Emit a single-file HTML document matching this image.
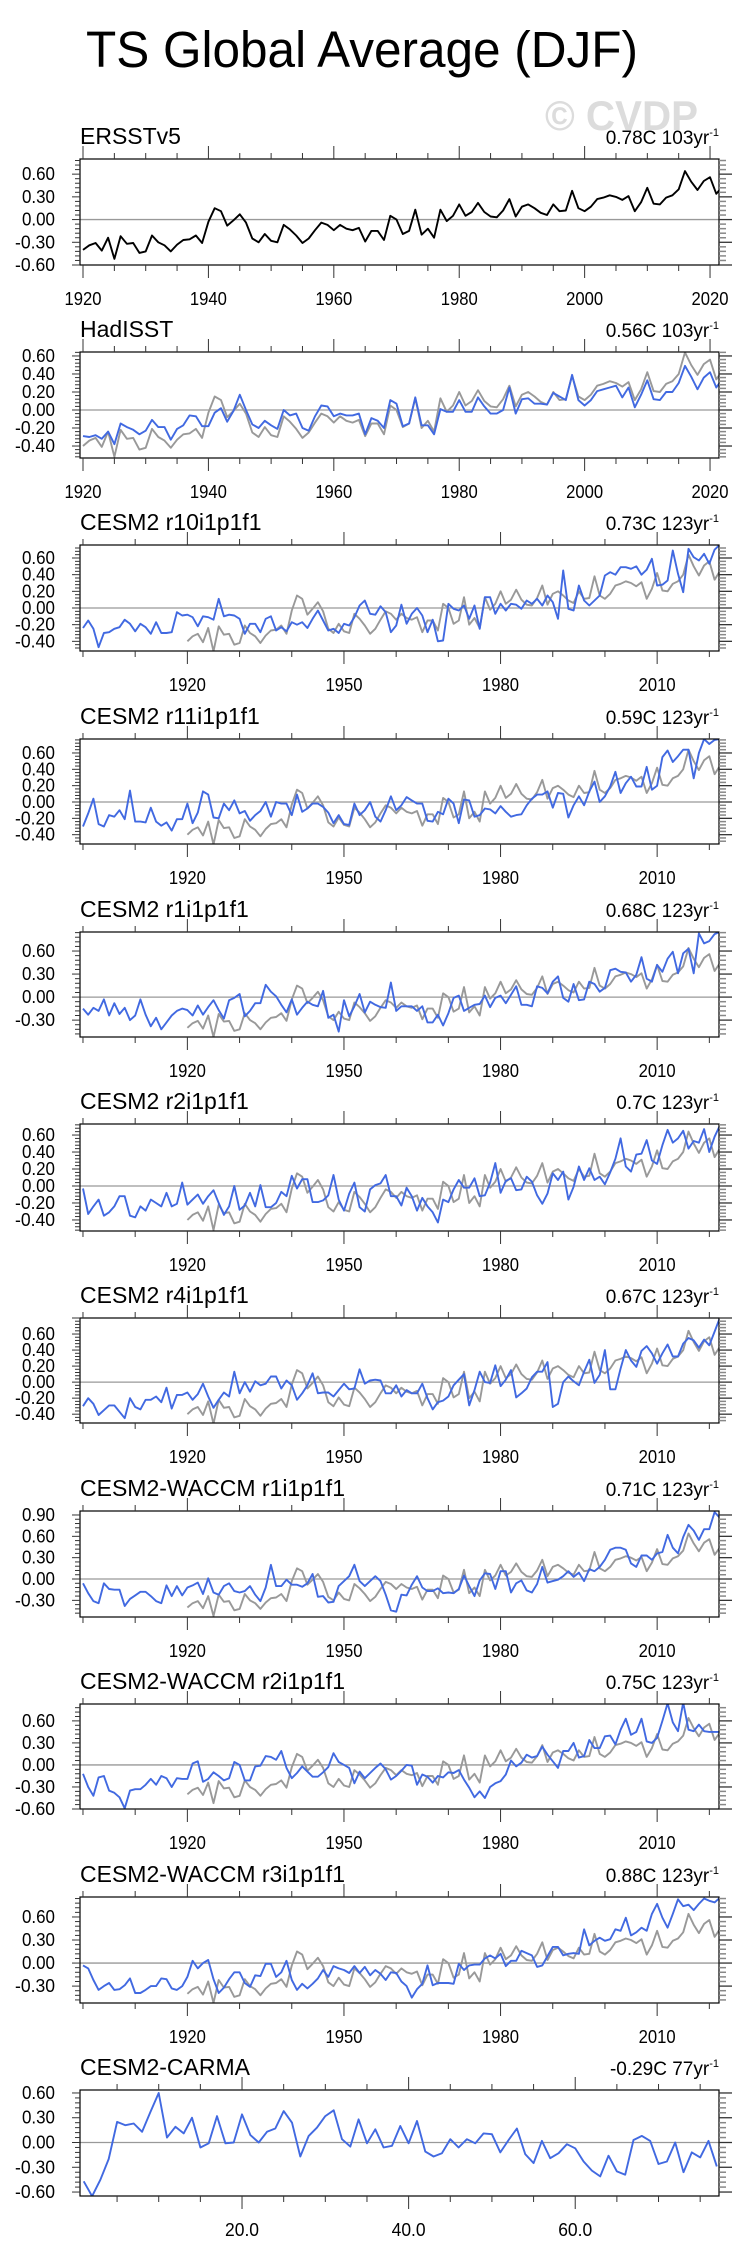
<!DOCTYPE html>
<html><head><meta charset="utf-8">
<style>
html,body{margin:0;padding:0;background:#fff;}
svg{display:block;font-family:"Liberation Sans",Arial,sans-serif;}
</style></head>
<body>
<svg id="chart" width="748" height="2265" viewBox="0 0 748 2265" xmlns="http://www.w3.org/2000/svg">
<rect width="748" height="2265" fill="#fff"/>
<text x="86" y="67" font-size="51" textLength="552" lengthAdjust="spacingAndGlyphs" fill="#000">TS Global Average (DJF)</text>
<text x="545" y="130" font-size="42" font-weight="bold" textLength="153" lengthAdjust="spacingAndGlyphs" fill="#dcdcdc">© CVDP</text>
<g id="panels"></g>
</svg>
<script>
// ---- data ----
const obsYears = [1920, 2022];
const ersst = [-0.40,-0.34,-0.31,-0.41,-0.24,-0.52,-0.22,-0.32,-0.31,-0.44,-0.42,-0.21,-0.30,-0.34,-0.42,-0.33,-0.27,-0.26,-0.21,-0.31,
-0.03,0.15,0.11,-0.08,-0.01,0.07,-0.04,-0.25,-0.30,-0.19,-0.28,-0.30,-0.07,-0.13,-0.21,-0.31,-0.25,-0.14,-0.04,-0.07,
-0.14,-0.07,-0.12,-0.14,-0.11,-0.29,-0.15,-0.15,-0.27,0.05,0.00,-0.19,-0.15,0.13,-0.20,-0.12,-0.24,0.13,-0.02,0.05,
0.20,0.05,0.10,0.22,0.10,0.04,0.03,0.12,0.27,0.04,0.17,0.20,0.15,0.09,0.06,0.20,0.11,0.12,0.38,0.15,
0.11,0.17,0.27,0.29,0.32,0.30,0.26,0.31,0.11,0.23,0.42,0.21,0.20,0.29,0.32,0.40,0.64,0.50,0.39,0.51,0.56,0.34,0.44];
const hadisst = [-0.29,-0.30,-0.28,-0.32,-0.24,-0.38,-0.15,-0.19,-0.22,-0.27,-0.23,-0.11,-0.19,-0.19,-0.33,-0.21,-0.17,-0.06,-0.07,-0.18,
-0.18,-0.03,0.02,-0.13,-0.01,0.17,0.00,-0.16,-0.20,-0.12,-0.17,-0.21,0.00,-0.06,-0.04,-0.20,-0.23,-0.07,0.05,0.04,
-0.07,-0.04,-0.06,-0.06,-0.04,-0.27,-0.09,-0.12,-0.20,0.11,0.07,-0.18,-0.15,0.14,-0.17,-0.17,-0.27,0.01,-0.02,-0.02,
0.11,-0.02,-0.02,0.14,0.04,-0.04,-0.04,0.00,0.25,-0.04,0.12,0.13,0.07,0.07,0.06,0.19,0.15,0.11,0.39,0.11,
0.05,0.11,0.21,0.23,0.25,0.27,0.14,0.25,0.03,0.17,0.33,0.12,0.11,0.20,0.20,0.30,0.49,0.37,0.23,0.36,0.42,0.25,0.35];
const modelYears = [1900, 2022];
const r10 = [-0.24,-0.15,-0.25,-0.47,-0.30,-0.29,-0.25,-0.23,-0.14,-0.19,-0.28,-0.19,-0.23,-0.31,-0.17,-0.30,-0.30,-0.29,-0.05,-0.09,
-0.08,-0.11,-0.22,-0.10,-0.11,-0.14,0.11,-0.10,-0.08,-0.09,-0.13,-0.31,-0.19,-0.19,-0.29,-0.13,-0.10,-0.27,-0.23,-0.28,
-0.17,-0.20,-0.17,-0.24,-0.13,-0.03,-0.15,-0.27,-0.25,-0.30,-0.19,-0.21,-0.11,0.03,0.09,-0.07,-0.08,0.02,-0.05,-0.29,
-0.21,0.04,-0.19,-0.07,0.00,-0.09,-0.29,-0.14,-0.40,-0.39,0.05,-0.01,-0.03,0.03,-0.13,0.03,-0.25,0.13,0.13,-0.07,
0.05,-0.03,0.05,0.04,-0.01,0.09,0.05,0.11,0.03,0.15,0.07,-0.13,0.45,-0.01,-0.03,0.27,0.09,0.03,0.09,0.15,
0.39,0.43,0.40,0.49,0.49,0.47,0.50,0.40,0.46,0.59,0.27,0.28,0.33,0.69,0.41,0.19,0.71,0.61,0.57,0.65,0.53,0.70,0.76];
const r11 = [-0.30,-0.14,0.04,-0.27,-0.30,-0.16,-0.18,-0.10,-0.21,0.14,-0.24,-0.24,-0.25,-0.07,-0.24,-0.29,-0.25,-0.35,-0.21,-0.21,
-0.02,-0.26,-0.13,0.13,0.09,-0.19,-0.20,-0.02,-0.10,0.02,-0.14,-0.11,-0.23,-0.16,-0.11,0.00,-0.18,0.00,-0.02,-0.02,
-0.16,0.09,-0.12,-0.08,-0.02,-0.02,-0.06,-0.13,-0.26,-0.16,-0.27,-0.28,-0.02,-0.16,-0.10,0.00,-0.18,-0.24,-0.10,0.07,
-0.10,-0.04,0.06,0.02,-0.02,-0.02,-0.23,-0.24,-0.12,-0.15,0.04,-0.02,-0.26,0.03,0.02,-0.18,-0.16,-0.08,-0.09,-0.14,
-0.05,-0.12,-0.18,-0.16,-0.15,-0.04,0.04,0.09,0.09,0.13,-0.07,0.11,0.10,-0.19,-0.04,0.07,-0.04,0.13,0.25,0.00,
0.07,0.19,0.37,0.11,0.23,0.31,0.19,0.19,0.43,0.15,0.20,0.55,0.63,0.49,0.56,0.64,0.64,0.29,0.60,0.77,0.71,0.76,0.77];
const r1 = [-0.15,-0.23,-0.14,-0.18,-0.03,-0.24,-0.08,-0.22,-0.14,-0.30,-0.24,-0.03,-0.23,-0.38,-0.27,-0.42,-0.33,-0.24,-0.18,-0.15,
-0.17,-0.24,-0.11,-0.23,-0.13,-0.04,-0.17,-0.28,-0.04,-0.01,0.04,-0.25,-0.18,-0.08,-0.08,0.16,0.07,0.01,-0.10,-0.20,
-0.03,-0.23,-0.14,-0.06,-0.10,-0.12,0.08,-0.27,-0.23,-0.45,-0.04,-0.25,-0.12,0.04,-0.20,-0.06,-0.10,-0.13,-0.14,0.19,
-0.18,-0.12,-0.12,-0.12,-0.18,-0.12,-0.33,-0.33,-0.23,-0.37,-0.21,-0.01,0.02,-0.18,-0.14,-0.10,-0.09,0.02,-0.13,-0.01,
0.02,-0.08,0.03,0.14,-0.10,-0.10,-0.12,0.14,0.12,0.05,0.20,0.27,-0.01,-0.06,0.17,-0.04,-0.03,0.20,0.17,0.07,
0.12,0.35,0.37,0.33,0.32,0.20,0.29,0.52,0.24,0.20,0.42,0.33,0.50,0.59,0.31,0.57,0.63,0.31,0.83,0.70,0.73,0.82,0.85];
const r2 = [-0.03,-0.33,-0.24,-0.16,-0.35,-0.31,-0.24,-0.12,-0.12,-0.35,-0.37,-0.24,-0.29,-0.16,-0.20,-0.24,-0.08,-0.24,-0.21,0.04,
-0.22,-0.16,-0.10,-0.21,-0.12,-0.05,-0.20,-0.34,-0.24,0.00,-0.28,-0.23,-0.08,-0.24,0.01,-0.25,-0.25,-0.20,-0.07,-0.12,
0.12,-0.03,0.08,0.08,-0.19,-0.19,-0.17,-0.11,0.13,-0.16,-0.29,-0.09,0.04,-0.25,-0.30,-0.04,0.01,0.03,0.13,-0.12,
-0.12,-0.23,-0.02,-0.12,-0.29,-0.14,-0.24,-0.31,-0.43,-0.16,-0.19,-0.04,0.07,-0.02,-0.02,0.09,-0.12,-0.11,0.04,0.27,
-0.08,0.06,0.09,-0.05,-0.04,0.11,0.05,-0.11,-0.21,-0.09,0.15,0.07,0.17,-0.16,-0.01,0.23,0.07,0.21,0.07,0.11,
0.02,0.16,0.32,0.56,0.23,0.17,0.37,0.38,0.54,0.30,0.26,0.48,0.66,0.51,0.56,0.65,0.44,0.53,0.51,0.67,0.40,0.58,0.71];
const r4 = [-0.30,-0.20,-0.27,-0.41,-0.35,-0.29,-0.29,-0.37,-0.45,-0.20,-0.31,-0.34,-0.22,-0.22,-0.18,-0.25,-0.07,-0.33,-0.16,-0.16,
-0.13,-0.22,-0.15,-0.02,-0.18,-0.32,-0.22,-0.13,-0.18,0.13,-0.14,0.00,-0.12,0.01,-0.04,-0.02,0.07,0.07,-0.08,0.02,
-0.04,-0.22,-0.14,-0.04,0.11,-0.14,-0.13,-0.13,-0.18,-0.10,-0.02,-0.09,-0.08,0.16,-0.02,0.02,0.03,0.02,-0.14,-0.14,
-0.04,-0.18,-0.10,-0.14,-0.14,-0.02,-0.20,-0.34,-0.25,-0.23,-0.18,-0.04,0.03,0.10,-0.29,-0.10,0.13,0.00,-0.01,0.21,
-0.05,0.03,0.15,-0.19,-0.14,-0.08,0.06,0.13,0.13,0.25,-0.31,-0.27,0.00,0.07,0.01,-0.04,0.13,0.28,-0.01,0.09,
0.40,-0.09,-0.09,0.17,0.40,0.27,0.19,0.39,0.45,0.36,0.23,0.36,0.47,0.32,0.32,0.48,0.55,0.52,0.43,0.53,0.46,0.63,0.80];
const waccmR1 = [-0.06,-0.20,-0.31,-0.34,-0.06,-0.14,-0.15,-0.15,-0.38,-0.28,-0.23,-0.18,-0.18,-0.24,-0.31,-0.34,-0.09,-0.24,-0.10,-0.23,
-0.12,-0.09,-0.05,-0.21,0.01,-0.19,-0.22,-0.10,-0.06,-0.17,-0.19,-0.17,-0.10,-0.22,-0.31,-0.12,0.20,-0.10,-0.10,-0.01,
-0.08,-0.08,-0.11,-0.06,0.07,-0.25,-0.24,-0.33,-0.32,-0.10,-0.03,0.04,0.20,-0.03,-0.10,-0.03,0.04,-0.03,-0.22,-0.44,
-0.46,-0.22,-0.23,-0.08,0.04,-0.12,-0.17,-0.17,-0.13,-0.20,-0.19,-0.20,-0.14,0.05,-0.10,-0.24,-0.02,0.08,0.07,-0.14,
0.11,0.11,-0.19,-0.06,-0.02,-0.16,-0.19,-0.07,0.17,-0.05,-0.03,-0.01,0.04,0.11,0.03,0.09,-0.03,0.14,0.11,0.17,
0.27,0.41,0.44,0.44,0.41,0.22,0.17,0.33,0.33,0.27,0.36,0.38,0.62,0.44,0.36,0.59,0.76,0.68,0.55,0.70,0.70,0.94,0.86];
const waccmR2 = [-0.12,-0.30,-0.42,-0.17,-0.15,-0.35,-0.38,-0.44,-0.59,-0.35,-0.33,-0.33,-0.27,-0.19,-0.27,-0.15,-0.18,-0.30,-0.18,-0.19,
-0.19,0.02,0.05,-0.23,-0.19,-0.10,-0.15,-0.21,-0.18,0.04,0.00,-0.21,-0.21,-0.02,-0.01,0.12,0.11,0.07,0.19,-0.04,
-0.18,-0.11,-0.02,-0.09,-0.16,-0.16,-0.10,-0.03,0.16,0.04,0.00,-0.04,-0.25,-0.09,-0.18,-0.11,-0.04,0.02,-0.06,-0.20,
-0.15,-0.08,0.00,-0.01,-0.27,-0.13,-0.16,-0.24,-0.15,-0.17,-0.10,-0.11,-0.07,-0.20,-0.31,-0.44,-0.36,-0.45,-0.30,-0.25,
-0.22,-0.13,0.06,-0.02,0.03,0.14,0.10,0.12,0.25,0.14,0.05,-0.04,0.19,0.19,0.30,0.10,0.12,0.34,0.23,0.23,
0.39,0.40,0.28,0.48,0.63,0.41,0.45,0.63,0.32,0.30,0.37,0.60,0.84,0.58,0.46,0.85,0.48,0.46,0.55,0.46,0.45,0.45,0.45];
const waccmR3 = [-0.03,-0.07,-0.22,-0.35,-0.30,-0.26,-0.35,-0.34,-0.29,-0.20,-0.39,-0.39,-0.35,-0.30,-0.30,-0.20,-0.21,-0.33,-0.35,-0.30,
-0.18,0.03,-0.07,0.00,0.04,-0.21,-0.39,-0.32,-0.21,-0.12,-0.12,-0.26,-0.31,-0.16,-0.17,-0.01,-0.01,-0.18,-0.12,0.03,
-0.22,-0.35,-0.27,-0.33,-0.27,-0.20,-0.09,-0.18,-0.04,-0.07,-0.09,-0.13,-0.04,-0.13,-0.05,-0.16,-0.09,-0.14,-0.22,-0.12,
-0.13,-0.24,-0.30,-0.45,-0.34,-0.27,-0.03,-0.29,-0.26,-0.26,-0.26,-0.27,-0.01,-0.09,-0.03,-0.02,-0.02,0.06,0.10,0.06,
0.12,-0.04,0.03,0.03,0.16,0.13,0.10,-0.05,-0.03,0.09,0.21,0.21,0.10,0.12,0.13,0.12,0.44,0.23,0.29,0.33,
0.29,0.31,0.44,0.42,0.59,0.36,0.40,0.46,0.42,0.64,0.77,0.59,0.46,0.64,0.83,0.74,0.76,0.69,0.77,0.84,0.81,0.79,0.85];
const carmaX = [1, 77];
const carma = [-0.47,-0.65,-0.45,-0.20,0.25,0.21,0.23,0.13,0.37,0.60,0.06,0.19,0.11,0.30,-0.06,-0.01,0.32,-0.01,0.00,0.34,
0.09,0.00,0.13,0.17,0.38,0.24,-0.17,0.08,0.18,0.32,0.39,0.04,-0.05,0.28,-0.01,0.16,-0.06,-0.04,0.20,-0.01,
0.26,-0.11,-0.17,-0.13,0.04,-0.06,0.04,-0.01,0.11,0.10,-0.12,0.03,0.17,-0.14,-0.25,0.02,-0.19,-0.13,-0.02,-0.07,
-0.23,-0.34,-0.41,-0.16,-0.35,-0.39,0.03,0.08,0.02,-0.26,-0.23,0.00,-0.36,-0.12,-0.18,0.02,-0.29];
const panelTitles = ["ERSSTv5","HadISST","CESM2 r10i1p1f1","CESM2 r11i1p1f1","CESM2 r1i1p1f1","CESM2 r2i1p1f1","CESM2 r4i1p1f1","CESM2-WACCM r1i1p1f1","CESM2-WACCM r2i1p1f1","CESM2-WACCM r3i1p1f1","CESM2-CARMA"];
const trendLabels = ["0.78C 103yr","0.56C 103yr","0.73C 123yr","0.59C 123yr","0.68C 123yr","0.7C 123yr","0.67C 123yr","0.71C 123yr","0.75C 123yr","0.88C 123yr","-0.29C 77yr"];
const yTickSets = [[-0.6,-0.3,0,0.3,0.6],[-0.4,-0.2,0,0.2,0.4,0.6],[-0.4,-0.2,0,0.2,0.4,0.6],[-0.4,-0.2,0,0.2,0.4,0.6],[-0.3,0,0.3,0.6],[-0.4,-0.2,0,0.2,0.4,0.6],[-0.4,-0.2,0,0.2,0.4,0.6],[-0.3,0,0.3,0.6,0.9],[-0.6,-0.3,0,0.3,0.6],[-0.3,0,0.3,0.6],[-0.6,-0.3,0,0.3,0.6]];
const yRanges = [[-0.6,0.8],[-0.533,0.644],[-0.516,0.756],[-0.514,0.771],[-0.52,0.848],[-0.53,0.73],[-0.51,0.8],[-0.534,0.956],[-0.6,0.83],[-0.52,0.86],[-0.648,0.636]];

// ---- layout ----
const NS = "http://www.w3.org/2000/svg";
const root = document.getElementById("panels");
const boxTops = [159,352,545,739,932,1124,1318,1511,1704,1897,2090];
const boxBots = [265,458,651,844,1037,1231,1423,1617,1809,2003,2196];
const L = 80, R = 719;
const BLUE = "#4169e1", GREY = "#999999";

function mk(tag, attrs, parent){ const e=document.createElementNS(NS,tag); for(const k in attrs) e.setAttribute(k,attrs[k]); parent.appendChild(e); return e; }

function xAxisFor(i){
  if(i<2){ return {lo:1919.52, hi:2021.43, major:[1920,1940,1960,1980,2000,2020], minorStep:5, minorStart:1920, labels:v=>String(v)}; }
  if(i===10){ return {lo:0.55, hi:77.26, major:[20,40,60], minorStep:5, minorStart:5, labels:v=>v.toFixed(1)}; }
  return {lo:1899.43, hi:2021.85, major:[1920,1950,1980,2010], minorStep:10, minorStart:1900, labels:v=>String(v)};
}

function seriesFor(i){
  const s=[];
  if(i===0) s.push({d:ersst, x0:obsYears[0], c:"#000", n:"ersst-line"});
  else if(i===1){ s.push({d:ersst,x0:obsYears[0],c:GREY,n:"ersst-obs-line"}); s.push({d:hadisst,x0:obsYears[0],c:BLUE,n:"hadisst-line"}); }
  else if(i===10) s.push({d:carma,x0:carmaX[0],c:BLUE,n:"carma-line"});
  else {
    const m=[r10,r11,r1,r2,r4,waccmR1,waccmR2,waccmR3][i-2];
    s.push({d:ersst,x0:obsYears[0],c:GREY,n:"obs-line"});
    s.push({d:m,x0:modelYears[0],c:BLUE,n:"model-line"});
  }
  return s;
}

for(let i=0;i<11;i++){
  const top=boxTops[i], bot=boxBots[i];
  const [ymin,ymax]=yRanges[i];
  const ax=xAxisFor(i);
  const sx=v=>L+(v-ax.lo)/(ax.hi-ax.lo)*(R-L);
  const sy=v=>bot-(v-ymin)/(ymax-ymin)*(bot-top);
  const g=mk("g",{},root);
  
  

  const t=mk("text",{x:L,y:top-15,"font-size":23,fill:"#000"},g);
  t.textContent=panelTitles[i];
  
  

  const tr=mk("text",{x:R,y:top-15,"font-size":19,"text-anchor":"end",fill:"#000"},g);
  
  
  const ts1=mk("tspan",{},tr); ts1.textContent=trendLabels[i];
  const ts2=mk("tspan",{dy:-8,"font-size":11},tr); ts2.textContent="-1";

  const cid="clip"+i;
  const cp=mk("clipPath",{id:cid},g);
  mk("rect",{x:L,y:top,width:R-L,height:bot-top},cp);

  const z=mk("line",{x1:L,x2:R,y1:sy(0),y2:sy(0),stroke:"#999","stroke-width":1.3},g);
  
  

  seriesFor(i).forEach(s=>{
    const pts=s.d.map((v,k)=>sx(s.x0+k).toFixed(1)+","+sy(v).toFixed(1)).join(" ");
    const pl=mk("polyline",{points:pts,fill:"none",stroke:s.c,"stroke-width":1.9,"stroke-linejoin":"round","clip-path":"url(#"+cid+")"},g);
    
    
  });

  const b=mk("rect",{x:L,y:top,width:R-L,height:bot-top,fill:"none",stroke:"#000","stroke-width":1.2},g);
  
  

  for(let v=ax.minorStart; v<=ax.hi; v+=ax.minorStep){
    if(v<ax.lo) continue;
    const x=sx(v), maj=ax.major.includes(v), len=maj?13:6;
    mk("line",{x1:x,x2:x,y1:top,y2:top-len,stroke:"#333","stroke-width":1},g);
    mk("line",{x1:x,x2:x,y1:bot,y2:bot+len,stroke:"#333","stroke-width":1},g);
  }
  ax.major.forEach(v=>{
    const xl=mk("text",{x:sx(v),y:bot+40,"font-size":18,"text-anchor":"middle",fill:"#000",textLength:i===10?34:37,lengthAdjust:"spacingAndGlyphs"},g);
    xl.textContent=ax.labels(v);
    
    
  });

  const yt=yTickSets[i], step=yt[1]-yt[0];
  for(let k=-10;k<40;k++){
    const v=+(yt[0]+k*step/5).toFixed(4);
    if(v<ymin-1e-6||v>ymax+1e-6) continue;
    const y=sy(v), maj=Math.abs(((v-yt[0])/step)-Math.round((v-yt[0])/step))<1e-3;
    mk("line",{x1:L,x2:L-(maj?8:5),y1:y,y2:y,stroke:"#333","stroke-width":1},g);
    mk("line",{x1:R,x2:R+(maj?13:7),y1:y,y2:y,stroke:maj?"#333":"#888","stroke-width":maj?1.3:1.5},g);
  }
  yt.forEach(v=>{
    const lab=v.toFixed(2);
    const yl=mk("text",{x:55,y:sy(v)+6,"font-size":18,"text-anchor":"end",fill:"#000",textLength:lab.length>4?40:33,lengthAdjust:"spacingAndGlyphs"},g);
    yl.textContent=lab;
    
    
  });
}
</script>
</body></html>
